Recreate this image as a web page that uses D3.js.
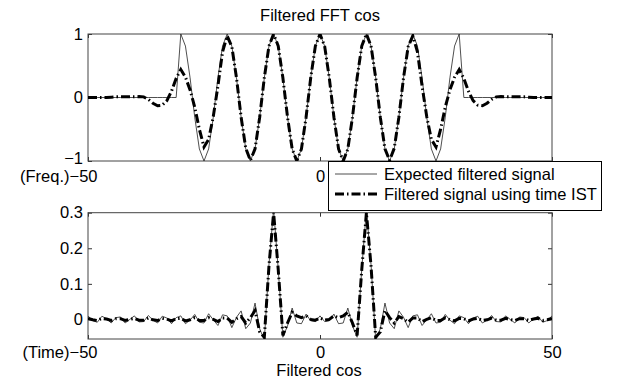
<!DOCTYPE html>
<html>
<head>
<meta charset="utf-8">
<script src="https://cdn.jsdelivr.net/npm/d3@7"></script>
<style>
  body { margin: 0; background: #fff; }
  text { font-family: "Liberation Sans", Arial, Helvetica, sans-serif; }
</style>
</head>
<body>
<div id="app"></div>
<script>
// sample positions (frequency bins / time samples), -50 .. 50
const samples = d3.range(-50, 51);

// top panel: frequency domain
const freqExpected = [
  0, 0, 0, 0, 0, 0, 0, 0, 0, 0,
  0, 0, 0, 0, 0, 0, 0, 0, 0, 0,
  1, 0.81, 0.31, -0.31, -0.81, -1, -0.81, -0.31, 0.31, 0.81,
  1, 0.81, 0.31, -0.31, -0.81, -1, -0.81, -0.31, 0.31, 0.81,
  1, 0.81, 0.31, -0.31, -0.81, -1, -0.81, -0.31, 0.31, 0.81,
  1,
  0.81, 0.31, -0.31, -0.81, -1, -0.81, -0.31, 0.31, 0.81, 1,
  0.81, 0.31, -0.31, -0.81, -1, -0.81, -0.31, 0.31, 0.81, 1,
  0.81, 0.31, -0.31, -0.81, -1, -0.81, -0.31, 0.31, 0.81, 1,
  0, 0, 0, 0, 0, 0, 0, 0, 0, 0,
  0, 0, 0, 0, 0, 0, 0, 0, 0, 0
];
const freqIST = [
  0, 0, 0, 0, 0, 0.005, 0.01, 0.01, 0.01, 0.01,
  0.01, 0.015, 0.01, -0.03, -0.09, -0.13, -0.12, -0.05, 0.1, 0.3,
  0.44, 0.32, 0.12, -0.15, -0.5, -0.78, -0.66, -0.3, 0.18, 0.72,
  0.97, 0.8, 0.31, -0.31, -0.8, -0.99, -0.81, -0.31, 0.31, 0.81,
  1, 0.81, 0.31, -0.31, -0.81, -1, -0.81, -0.31, 0.31, 0.81,
  1,
  0.81, 0.31, -0.31, -0.81, -1, -0.81, -0.31, 0.31, 0.81, 1,
  0.81, 0.31, -0.31, -0.81, -0.99, -0.8, -0.31, 0.31, 0.8, 0.97,
  0.72, 0.18, -0.3, -0.66, -0.78, -0.5, -0.15, 0.12, 0.32, 0.44,
  0.3, 0.1, -0.05, -0.12, -0.13, -0.09, -0.03, 0.01, 0.015, 0.01,
  0.01, 0.01, 0.01, 0.01, 0.005, 0, 0, 0, 0, 0
];

// bottom panel: time domain
const timeExpected = [
  0.010, -0.003, -0.008, 0.009, 0.002, -0.010, 0.005, 0.007, -0.010, 0.000,
  0.010, -0.007, -0.006, 0.011, -0.002, -0.010, 0.009, 0.004, -0.012, 0.005,
  0.010, -0.012, -0.002, 0.014, -0.008, -0.010, 0.016, -0.001, -0.017, 0.013,
  0.010, -0.023, 0.006, 0.024, -0.026, -0.010, 0.046, -0.026, -0.058, 0.154,
  0.310, 0.141, -0.050, -0.018, 0.032, -0.010, -0.012, 0.015, -0.004, -0.006,
  0.010,
  -0.006, -0.004, 0.015, -0.012, -0.010, 0.032, -0.018, -0.050, 0.141, 0.310,
  0.154, -0.058, -0.026, 0.046, -0.010, -0.026, 0.024, 0.006, -0.023, 0.010,
  0.013, -0.017, -0.001, 0.016, -0.010, -0.008, 0.014, -0.002, -0.012, 0.010,
  0.005, -0.012, 0.004, 0.009, -0.010, -0.002, 0.011, -0.006, -0.007, 0.010,
  0.000, -0.010, 0.007, 0.005, -0.010, 0.002, 0.009, -0.008, -0.003, 0.010
];
const timeIST = [
  0.003, -0.001, -0.003, 0.003, 0.001, -0.003, 0.002, 0.002, -0.003, 0.000,
  0.003, -0.002, -0.002, 0.004, -0.001, -0.003, 0.003, 0.001, -0.004, 0.002,
  0.003, -0.004, -0.001, 0.005, -0.003, -0.003, 0.005, 0.000, -0.006, 0.004,
  0.004, -0.008, 0.002, 0.008, -0.010, 0.005, 0.025, -0.035, -0.050, 0.150,
  0.300, 0.140, -0.045, -0.010, 0.020, 0.010, 0.005, 0.010, 0.000, -0.002,
  0.004,
  -0.002, 0.000, 0.010, 0.005, 0.010, 0.020, -0.010, -0.045, 0.140, 0.300,
  0.150, -0.050, -0.035, 0.025, 0.005, -0.010, 0.008, 0.002, -0.008, 0.004,
  0.004, -0.006, 0.000, 0.005, -0.003, -0.003, 0.005, -0.001, -0.004, 0.003,
  0.002, -0.004, 0.001, 0.003, -0.003, -0.001, 0.004, -0.002, -0.002, 0.003,
  0.000, -0.003, 0.002, 0.002, -0.003, 0.001, 0.003, -0.003, -0.001, 0.003
];

const xTicks = [-50, 0, 50];
const freqYTicks = [-1, 0, 1];
const timeYTicks = [0, 0.1, 0.2, 0.3];
const seriesNames = ["Expected filtered signal", "Filtered signal using time IST"];

const width = 622;
const height = 379;
const left = 88;
const right = 552;
const fontSize = 16.5;
const istDash = "9,3,1.5,3";

const svg = d3.select("#app").append("svg")
  .attr("width", width)
  .attr("height", height);

// hiddenX: x tick labels that sit under the legend box
function panel(id, top, bottom, yDomain, yTicks, ySeries, prefix, hiddenX, xPad) {
  const x = d3.scaleLinear().domain([-50, 50]).range([left, right]);
  const y = d3.scaleLinear().domain(yDomain).range([bottom, top]);
  const g = svg.append("g");

  g.append("clipPath").attr("id", id)
    .append("rect")
    .attr("x", left).attr("y", top)
    .attr("width", right - left).attr("height", bottom - top);

  const fmt = (d) => d3.format("")(d);

  // left axis with labels, ticks inside
  const ly = g.append("g")
    .attr("transform", `translate(${left},0)`)
    .call(d3.axisLeft(y).tickValues(yTicks).tickSizeInner(-4).tickSizeOuter(0)
      .tickPadding(5).tickFormat(fmt))
    .call((a) => a.select(".domain").remove());
  // lowest label sits a bit above its tick, as in the original
  ly.selectAll(".tick text")
    .filter((d) => d === yDomain[0])
    .attr("y", -3);

  g.append("g")
    .attr("transform", `translate(${right},0)`)
    .call(d3.axisRight(y).tickValues(yTicks).tickSizeInner(-4).tickSizeOuter(0)
      .tickFormat(""))
    .call((a) => a.select(".domain").remove());

  const bx = g.append("g")
    .attr("transform", `translate(0,${bottom})`)
    .call(d3.axisBottom(x).tickValues(xTicks).tickSizeInner(-4).tickSizeOuter(0)
      .tickPadding(xPad).tickFormat((d) => (hiddenX.includes(d) ? "" : fmt(d))))
    .call((a) => a.select(".domain").remove());
  g.append("g")
    .attr("transform", `translate(0,${top})`)
    .call(d3.axisTop(x).tickValues(xTicks).tickSizeInner(-4).tickSizeOuter(0)
      .tickFormat(""))
    .call((a) => a.select(".domain").remove());

  // "(Freq.)" / "(Time)" prefix on the first tick label
  bx.selectAll(".tick text")
    .filter((d) => d === -50)
    .attr("text-anchor", "end")
    .attr("x", 9)
    .text((d) => prefix + fmt(d));

  g.selectAll(".tick text")
    .attr("font-size", fontSize)
    .attr("font-family", '"Liberation Sans", Arial, sans-serif')
    .attr("fill", "#000");
  g.selectAll(".tick line").attr("stroke", "#333");

  g.append("rect")
    .attr("x", left).attr("y", top)
    .attr("width", right - left).attr("height", bottom - top)
    .attr("fill", "none")
    .attr("stroke", "#444")
    .attr("stroke-width", 1);

  const line = d3.line()
    .x((d, i) => x(samples[i]))
    .y((d) => y(d));

  const plot = g.append("g").attr("clip-path", `url(#${id})`);
  plot.append("path")
    .datum(ySeries[0])
    .attr("d", line)
    .attr("fill", "none")
    .attr("stroke", "#222")
    .attr("stroke-width", 0.8);
  plot.append("path")
    .datum(ySeries[1])
    .attr("d", line)
    .attr("fill", "none")
    .attr("stroke", "#000")
    .attr("stroke-width", 3)
    .attr("stroke-dasharray", istDash);
}

panel("clipFreq", 34, 161, [-1, 1], freqYTicks, [freqExpected, freqIST], "(Freq.)", [50], 9);
panel("clipTime", 212.7, 339, [-0.055, 0.3], timeYTicks, [timeExpected, timeIST], "(Time)", [], 7);

svg.append("text")
  .text("Filtered FFT cos")
  .attr("x", 320)
  .attr("y", 21)
  .attr("text-anchor", "middle")
  .attr("font-size", fontSize);

svg.append("text")
  .text("Filtered cos")
  .attr("x", 319)
  .attr("y", 376)
  .attr("text-anchor", "middle")
  .attr("font-size", fontSize);

// legend
const legend = svg.append("g");
legend.append("rect")
  .attr("x", 328.5).attr("y", 161.5)
  .attr("width", 273).attr("height", 49)
  .attr("fill", "#fff")
  .attr("stroke", "#000")
  .attr("stroke-width", 1);

seriesNames.forEach((name, i) => {
  const ly = 174 + i * 20;
  legend.append("line")
    .attr("x1", 335).attr("x2", 377)
    .attr("y1", ly).attr("y2", ly)
    .attr("stroke", i === 0 ? "#222" : "#000")
    .attr("stroke-width", i === 0 ? 0.8 : 3)
    .attr("stroke-dasharray", i === 0 ? null : istDash);
  legend.append("text")
    .text(name)
    .attr("x", 384)
    .attr("y", ly + 6)
    .attr("font-size", fontSize);
});
</script>
</body>
</html>
